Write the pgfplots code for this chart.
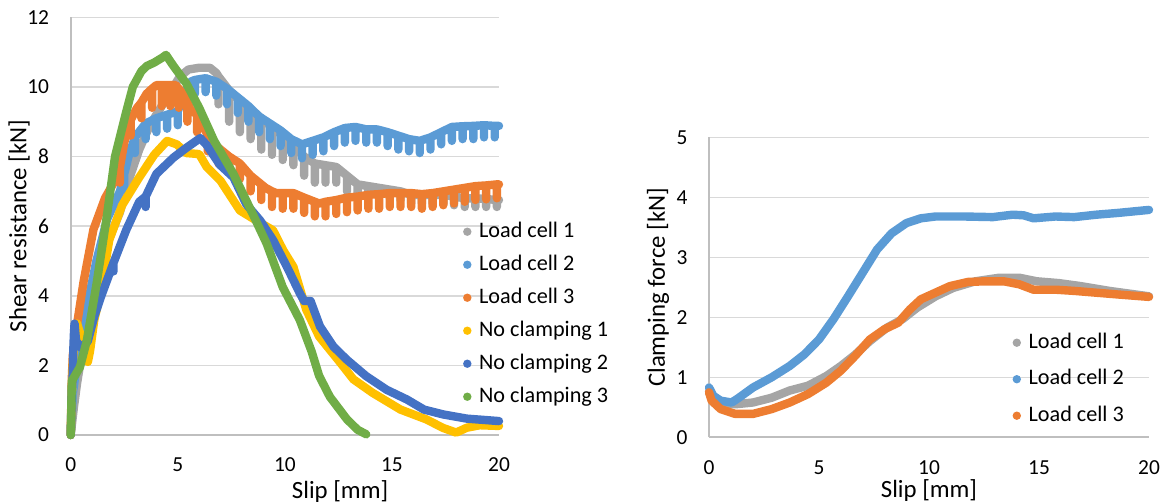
\documentclass[border=0pt]{standalone}
\usepackage{pgfplots}
\pgfplotsset{compat=1.18}
\usepackage{fontspec}
\setmainfont{Carlito}
\definecolor{cA}{HTML}{A5A5A5}
\definecolor{cB}{HTML}{5B9BD5}
\definecolor{cC}{HTML}{ED7D31}
\definecolor{cD}{HTML}{FFC000}
\definecolor{cE}{HTML}{4472C4}
\definecolor{cF}{HTML}{70AD47}
\definecolor{axisgray}{HTML}{BFBFBF}
\definecolor{gridgray}{HTML}{D9D9D9}
\newcommand\tickfont{\fontsize{10.7bp}{12bp}\selectfont}
\newcommand\legfont{\fontsize{11.1bp}{12bp}\selectfont}
\newcommand\labfont{\fontsize{12.4bp}{14bp}\selectfont}
\pgfplotsset{
  myaxis/.style={
    scale only axis,
    axis x line*=bottom, axis y line*=left,
    axis line style={-, draw=axisgray, line width=1bp},
    ymajorgrids, grid style={draw=gridgray, line width=0.75bp},
    major tick length=0pt,
    tick label style={font=\tickfont, text=black},
    /pgf/number format/assume math mode=true,
    label style={font=\labfont},
    yticklabel style={xshift=-7.3bp},
    xticklabel style={yshift=-8bp},
    clip=false,
    legend cell align=left,
    legend style={draw=none, fill=none, font=\legfont, inner sep=0pt, outer sep=0pt,
      nodes={inner sep=0pt, text height=8bp, text depth=2.5bp},
      /tikz/every odd column/.append style={column sep=3.8bp}},
    every axis plot/.append style={line width=4.2bp, line join=round, line cap=round},
  },
  dot/.style={legend image code/.code={\path[fill=#1, draw=none, line width=0pt] (0,0) circle (2.1bp);}},
}
\begin{document}
\begin{tikzpicture}
\useasboundingbox (0,0) rectangle (586bp,252bp);
% ---------------- left panel ----------------
\begin{axis}[myaxis,
  at={(35.35bp,34.5bp)}, anchor=south west,
  width=214.15bp, height=208.85bp,
  xmin=0, xmax=20, ymin=0, ymax=12,
  xtick={0,5,10,15,20}, ytick={0,2,4,6,8,10,12},
  xlabel={Slip [mm]}, ylabel={Shear resistance [kN]},
  xlabel style={at={(axis description cs:0.629,-0.136)}, anchor=center},
  ylabel style={at={(axis description cs:-0.1207,0.5)}, anchor=center},
  legend style={at={(axis description cs:0.9162,0.5118)}, anchor=north west,
    row sep=6bp},
]
% Load cell 1
\addplot[cA, forget plot] coordinates {
(0,0) (0.15,0.8) (0.3,1.5) (0.7,3.0) (1.2,4.5) (1.7,5.5) (2.3,6.4) (2.7,7.3) (3.2,8.2)
(3.7,8.9) (4.2,9.4) (4.7,9.9) (5.1,10.3) (5.5,10.5) (6.0,10.55) (6.5,10.55) (6.8,10.4)
(6.9,10.3)(6.9,9.5)(6.9,10.3)
(7.4,9.9)(7.4,9.0)(7.4,9.9)
(7.9,9.6)(7.9,8.7)(7.9,9.6)
(8.4,9.35)(8.4,8.5)(8.4,9.35)
(8.9,9.1)(8.9,8.2)(8.9,9.1)
(9.4,8.85)(9.4,8.05)(9.4,8.85)
(9.9,8.6)(9.9,7.9)(9.9,8.6)
(10.4,8.35)(10.4,7.75)(10.4,8.35)
(10.9,8.0)(10.9,7.45)(10.9,8.0)
(11.4,7.8)(11.4,7.25)(11.4,7.8)
(11.9,7.75)(11.9,7.25)(11.9,7.75)
(12.4,7.7)(12.4,7.25)(12.4,7.7)
(12.9,7.45)(12.9,7.0)(12.9,7.45)
(13.4,7.2)(13.4,6.9)(13.4,7.2)
(13.9,7.15)(13.9,6.85)(13.9,7.15)
(14.4,7.1)(14.4,6.85)(14.4,7.1)
(14.9,7.05)(14.9,6.8)(14.9,7.05)
(15.4,7.0)(15.4,6.75)(15.4,7.0)
(15.9,6.9)(15.9,6.65)(15.9,6.9)
(16.4,6.9)(16.4,6.65)(16.4,6.9)
(16.9,6.9)(16.9,6.65)(16.9,6.9)
(17.4,6.9)(17.4,6.65)(17.4,6.9)
(17.9,6.85)(17.9,6.6)(17.9,6.85)
(18.4,6.8)(18.4,6.55)(18.4,6.8)
(18.9,6.8)(18.9,6.55)(18.9,6.8)
(19.4,6.78)(19.4,6.55)(19.4,6.78)
(19.9,6.75)(19.9,6.55)(19.9,6.75)
(20,6.75)
};
% Load cell 2
\addplot[cB, forget plot] coordinates {
(0,0)(0.1,1.2)(0.4,2.5)(0.8,3.8)(1.2,5.0)(1.7,6.2)(2.3,7.0)
(2.5,7.5)(2.5,7.05)(2.5,7.5)
(2.7,8.0)
(3.0,8.55)(3.0,8.1)(3.0,8.55)
(3.5,8.95)(3.5,8.5)(3.5,8.95)
(4.0,9.1)(4.0,8.7)(4.0,9.1)
(4.5,9.2)(4.5,8.8)(4.5,9.2)
(5.0,9.3)(5.0,8.9)(5.0,9.3)
(5.3,9.8)(5.6,10.15)
(5.8,10.2)(5.8,9.8)(5.8,10.2)
(6.3,10.25)(6.3,9.85)(6.3,10.25)
(6.8,10.15)(6.8,9.75)(6.8,10.15)
(7.3,9.95)(7.3,9.5)(7.3,9.95)
(7.8,9.7)(7.8,9.25)(7.8,9.7)
(8.3,9.45)(8.3,9.0)(8.3,9.45)
(8.8,9.15)(8.8,8.7)(8.8,9.15)
(9.3,8.95)(9.3,8.5)(9.3,8.95)
(9.8,8.75)(9.8,8.3)(9.8,8.75)
(10.3,8.5)(10.3,8.1)(10.3,8.5)
(10.8,8.35)(10.8,7.95)(10.8,8.35)
(11.3,8.45)(11.3,8.05)(11.3,8.45)
(11.8,8.55)(11.8,8.15)(11.8,8.55)
(12.3,8.7)(12.3,8.3)(12.3,8.7)
(12.8,8.82)(12.8,8.4)(12.8,8.82)
(13.3,8.85)(13.3,8.45)(13.3,8.85)
(13.8,8.78)(13.8,8.4)(13.8,8.78)
(14.3,8.78)(14.3,8.4)(14.3,8.78)
(14.8,8.7)(14.8,8.3)(14.8,8.7)
(15.3,8.6)(15.3,8.2)(15.3,8.6)
(15.8,8.5)(15.8,8.15)(15.8,8.5)
(16.3,8.45)(16.3,8.1)(16.3,8.45)
(16.8,8.55)(16.8,8.2)(16.8,8.55)
(17.3,8.7)(17.3,8.35)(17.3,8.7)
(17.8,8.85)(17.8,8.45)(17.8,8.85)
(18.3,8.87)(18.3,8.5)(18.3,8.87)
(18.8,8.88)(18.8,8.5)(18.8,8.88)
(19.3,8.9)(19.3,8.55)(19.3,8.9)
(19.8,8.88)(19.8,8.55)(19.8,8.88)
(20,8.88)
};
% Load cell 3
\addplot[cC, forget plot] coordinates {
(0,0)(0.05,1.6)(0.1,2.3)(0.3,3.2)(0.6,4.4)(1.06,5.9)(1.6,6.8)(2.15,7.4)
(2.3,7.7)(2.3,7.25)(2.3,7.7)
(2.5,8.4)(2.76,9.0)
(2.8,9.05)(2.8,8.6)(2.8,9.05)
(3.1,9.4)
(3.3,9.55)(3.3,9.1)(3.3,9.55)
(3.54,9.8)
(3.8,9.95)(3.8,9.4)(3.8,9.95)
(4.0,10.05)
(4.25,10.05)(4.25,9.45)(4.25,10.05)
(4.65,10.05)(4.65,9.45)(4.65,10.05)
(4.9,10.05)
(5.05,9.95)(5.05,9.4)(5.05,9.95)
(5.3,9.75)
(5.45,9.55)(5.45,9.0)(5.45,9.55)
(5.6,9.35)
(5.9,9.2)(5.9,8.7)(5.9,9.2)
(6.0,9.15)
(6.4,8.6)(6.4,8.15)(6.4,8.6)
(6.6,8.4)
(6.9,8.25)(6.9,7.8)(6.9,8.25)
(7.3,8.05)
(7.4,8.0)(7.4,7.55)(7.4,8.0)
(7.9,7.8)(7.9,7.35)(7.9,7.8)
(8.4,7.45)(8.4,7.0)(8.4,7.45)
(8.5,7.4)
(8.9,7.2)(8.9,6.75)(8.9,7.2)
(9.1,7.1)
(9.4,7.0)(9.4,6.55)(9.4,7.0)
(9.6,6.95)
(9.9,6.95)(9.9,6.5)(9.9,6.95)
(10.4,6.95)(10.4,6.5)(10.4,6.95)
(10.9,6.82)(10.9,6.38)(10.9,6.82)
(11.4,6.7)(11.4,6.28)(11.4,6.7)
(11.6,6.65)
(11.9,6.7)(11.9,6.28)(11.9,6.7)
(12.4,6.75)(12.4,6.35)(12.4,6.75)
(12.9,6.82)(12.9,6.4)(12.9,6.82)
(13.4,6.85)(13.4,6.45)(13.4,6.85)
(13.9,6.9)(13.9,6.5)(13.9,6.9)
(14.4,6.92)(14.4,6.5)(14.4,6.92)
(14.9,6.95)(14.9,6.55)(14.9,6.95)
(15.4,6.95)(15.4,6.55)(15.4,6.95)
(15.9,6.95)(15.9,6.55)(15.9,6.95)
(16.4,6.92)(16.4,6.5)(16.4,6.92)
(16.9,6.95)(16.9,6.55)(16.9,6.95)
(17.4,7.0)(17.4,6.6)(17.4,7.0)
(17.9,7.05)(17.9,6.65)(17.9,7.05)
(18.4,7.1)(18.4,6.7)(18.4,7.1)
(18.9,7.15)(18.9,6.75)(18.9,7.15)
(19.4,7.17)(19.4,6.77)(19.4,7.17)
(19.9,7.2)(19.9,6.8)(19.9,7.2)
(20,7.2)
};
% No clamping 1
\addplot[cD, forget plot] coordinates {
(0,0)(0.05,1.0)(0.1,2.0)(0.2,3.0)(0.3,3.2)(0.5,2.8)(0.8,2.1)(0.9,2.4)(1.1,3.3)
(1.4,4.1)(1.8,5.6)(2.4,6.6)(3.2,7.4)(3.9,8.05)(4.5,8.45)(4.95,8.35)(5.4,8.1)
(6.0,8.07)(6.35,7.7)(7.0,7.3)(7.9,6.45)(8.7,6.15)(9.45,5.88)(9.93,5.3)(10.4,4.83)
(11.0,3.6)(11.6,2.83)(12.6,2.07)(13.2,1.6)(14.1,1.21)(15.4,0.73)(16.6,0.45)
(17.4,0.2)(18.0,0.07)(18.5,0.21)(19.1,0.28)(20,0.26)
};
% No clamping 2
\addplot[cE, forget plot] coordinates {
(0,0)(0.05,1.2)(0.1,1.8)(0.12,2.4)(0.15,2.9)(0.18,3.2)(0.25,2.7)(0.5,2.5)(0.8,2.7)
(1.1,3.4)(1.4,3.95)(2.0,4.95)(2.0,4.7)(2.0,4.95)(2.6,5.9)(3.2,6.7)
(3.5,6.85)(3.5,6.55)(3.5,6.85)(4.0,7.5)(4.8,7.97)(5.4,8.25)(6.05,8.53)(6.35,8.33)
(6.97,7.76)(7.6,7.4)(8.2,6.63)(8.85,6.16)(9.45,5.6)(10.1,4.83)(10.7,4.07)(10.9,3.85)
(11.2,3.85)(11.64,3.12)(12.27,2.54)(12.9,2.16)(13.8,1.69)(14.75,1.3)(15.7,1.02)
(16.5,0.73)(17.4,0.59)(18.5,0.47)(20,0.4)
};
% No clamping 3
\addplot[cF, forget plot] coordinates {
(0,0)(0.03,0.8)(0.05,1.55)(0.43,1.95)(0.75,2.7)(1.21,4.35)(1.68,6.25)(2.07,8.0)
(2.6,9.3)(2.9,10.0)(3.3,10.45)(3.55,10.6)(3.9,10.7)(4.3,10.85)(4.45,10.92)(4.8,10.6)
(5.4,10.1)(6.0,9.4)(6.7,8.45)(7.6,7.5)(8.5,6.35)(9.15,5.5)(9.9,4.25)(10.7,3.3)
(11.25,2.4)(11.6,1.7)(12.1,1.1)(12.9,0.45)(13.4,0.15)(13.8,0.02)
};
\addlegendimage{dot=cA}
\addlegendentry{Load cell 1}
\addlegendimage{dot=cB}
\addlegendentry{Load cell 2}
\addlegendimage{dot=cC}
\addlegendentry{Load cell 3}
\addlegendimage{dot=cD}
\addlegendentry{No clamping 1}
\addlegendimage{dot=cE}
\addlegendentry{No clamping 2}
\addlegendimage{dot=cF}
\addlegendentry{No clamping 3}
\end{axis}
% ---------------- right panel ----------------
\begin{axis}[myaxis,
  at={(354.5bp,33.35bp)}, anchor=south west,
  width=220bp, height=150bp,
  xmin=0, xmax=20, ymin=0, ymax=5,
  xtick={0,5,10,15,20}, ytick={0,1,2,3,4,5},
  xlabel={Slip [mm]}, ylabel={Clamping force [kN]},
  xlabel style={at={(axis description cs:0.5,-0.176)}, anchor=center},
  ylabel style={at={(axis description cs:-0.1159,0.5)}, anchor=center},
  legend style={at={(axis description cs:0.69,0.3503)}, anchor=north west,
    row sep=7.75bp},
]
\addplot[cA, forget plot] coordinates {
(0,0.75)(0.2,0.63)(0.53,0.57)(1.19,0.55)(2.0,0.58)(2.85,0.66)(3.67,0.78)(4.5,0.86)
(5.33,1.02)(6.0,1.19)(6.65,1.38)(7.3,1.6)(8.1,1.83)(8.8,1.97)(9.46,2.16)(10.3,2.35)
(11.1,2.49)(12.1,2.6)(13.2,2.66)(14.1,2.66)(14.9,2.6)(15.9,2.57)(16.9,2.52)(18.2,2.44)(20,2.35)
};
\addplot[cB, forget plot] coordinates {
(0,0.83)(0.2,0.69)(0.53,0.61)(1.03,0.58)(1.36,0.66)(2.0,0.83)(2.85,1.0)(3.67,1.19)
(4.33,1.38)(5.0,1.63)(5.66,1.97)(6.32,2.35)(6.98,2.74)(7.64,3.13)(8.3,3.4)(8.97,3.57)
(9.63,3.65)(10.3,3.68)(11.6,3.68)(12.9,3.67)(13.8,3.71)(14.3,3.7)(14.75,3.65)(15.75,3.68)
(16.6,3.67)(17.6,3.71)(18.6,3.74)(20,3.79)
};
\addplot[cC, forget plot] coordinates {
(0,0.75)(0.12,0.61)(0.53,0.47)(1.19,0.39)(2.0,0.39)(2.85,0.47)(3.67,0.58)(4.5,0.72)
(5.33,0.91)(5.99,1.11)(6.65,1.36)(7.31,1.63)(7.97,1.8)(8.6,1.91)(9.13,2.13)(9.63,2.3)
(10.29,2.41)(10.95,2.52)(11.78,2.59)(12.6,2.6)(13.4,2.6)(14.1,2.55)(14.75,2.46)
(15.75,2.46)(16.6,2.44)(17.6,2.41)(18.6,2.38)(20,2.34)
};
\addlegendimage{dot=cA}
\addlegendentry{Load cell 1}
\addlegendimage{dot=cB}
\addlegendentry{Load cell 2}
\addlegendimage{dot=cC}
\addlegendentry{Load cell 3}
\end{axis}
\end{tikzpicture}
\end{document}
